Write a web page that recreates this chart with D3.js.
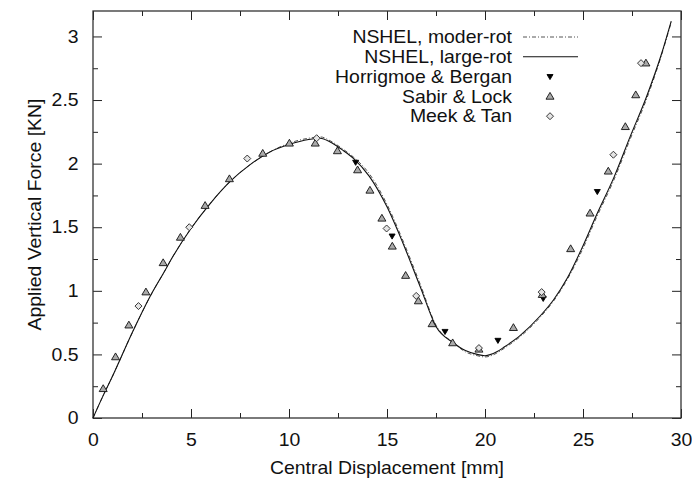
<!DOCTYPE html>
<html>
<head>
<meta charset="utf-8">
<script src="https://cdn.jsdelivr.net/npm/d3@7"></script>
<style>
  body { margin: 0; background: #fff; }
  svg text { font-family: "Liberation Sans", Arial, Helvetica, sans-serif; fill: #111; }
</style>
</head>
<body>
<svg id="chart" width="692" height="490"></svg>
<script>
// NSHEL results
const largeRotX = [0, 0.5, 1, 2, 3, 3.6, 4, 5, 6, 7, 8, 9, 10, 11, 11.6, 12.1, 12.7, 13.3, 14.1, 15.0, 15.8, 16.7, 17.5, 18.4, 19.0, 19.6, 20.0, 20.6, 21.0, 21.8, 22.8, 23.5, 24.2, 24.9, 25.7, 26.6, 27.4, 28.25, 29.0, 29.5];
const largeRotY = [0, 0.17, 0.33, 0.67, 0.98, 1.14, 1.25, 1.49, 1.69, 1.86, 1.99, 2.09, 2.15, 2.19, 2.20, 2.17, 2.11, 2.04, 1.90, 1.66, 1.38, 1.03, 0.72, 0.59, 0.53, 0.50, 0.49, 0.52, 0.56, 0.65, 0.80, 0.93, 1.10, 1.32, 1.60, 1.90, 2.21, 2.53, 2.86, 3.12];
const moderRotX = [0, 0.5, 1, 2, 3, 3.6, 4, 5, 6, 7, 8, 9, 10, 11, 11.6, 12.1, 12.7, 13.3, 14.1, 15.0, 15.8, 16.7, 17.5, 18.4, 19.0, 19.6, 20.0, 20.6, 21.0, 21.8, 22.8, 23.5, 24.2, 24.9, 25.7, 26.6, 27.4, 28.25, 29.0, 29.5];
const moderRotY = [0, 0.17, 0.33, 0.67, 0.98, 1.14, 1.25, 1.49, 1.69, 1.86, 1.99, 2.09, 2.16, 2.20, 2.21, 2.18, 2.12, 2.05, 1.92, 1.68, 1.40, 1.05, 0.73, 0.59, 0.52, 0.49, 0.48, 0.51, 0.55, 0.64, 0.79, 0.92, 1.09, 1.30, 1.58, 1.88, 2.19, 2.51, 2.85, 3.11];

// reference solutions (markers)
const horrigmoeX = [13.4, 15.26, 17.96, 20.66, 22.97, 25.73];
const horrigmoeY = [2.01, 1.43, 0.68, 0.61, 0.94, 1.78];
const sabirX = [0.52, 1.15, 1.83, 2.70, 3.58, 4.46, 5.72, 6.96, 8.66, 10.02, 11.34, 12.47, 13.5, 14.13, 14.74, 15.27, 15.95, 16.6, 17.3, 18.35, 19.69, 21.45, 22.92, 24.37, 25.36, 26.29, 27.16, 27.69, 28.21];
const sabirY = [0.23, 0.48, 0.73, 0.99, 1.22, 1.42, 1.67, 1.88, 2.08, 2.16, 2.16, 2.10, 1.95, 1.79, 1.57, 1.35, 1.12, 0.92, 0.74, 0.59, 0.54, 0.71, 0.97, 1.33, 1.61, 1.94, 2.29, 2.54, 2.79];
const meekX = [2.32, 4.91, 7.87, 11.41, 14.98, 16.49, 19.69, 22.89, 26.55, 27.96];
const meekY = [0.88, 1.50, 2.04, 2.20, 1.49, 0.96, 0.55, 0.99, 2.07, 2.79];

const xTicks = [0, 5, 10, 15, 20, 25, 30];
const yTicks = [0, 0.5, 1, 1.5, 2, 2.5, 3];
const yTickLabels = ['0', '0.5', '1', '1.5', '2', '2.5', '3'];

const zip = (xs, ys) => xs.map((x, i) => [x, ys[i]]);

const svg = d3.select('#chart');
const pLeft = 93, pRight = 681, pTop = 11, pBottom = 418;
// the original's Helvetica is a bit wider than tall, so stretch text sideways
const fontSize = '17.5px', stretch = 1.11;

const x = d3.scaleLinear().domain([0, 30]).range([pLeft, pRight]);
const y = d3.scaleLinear().domain([0, 3.2]).range([pBottom, pTop]);

// ticks on all four sides, pointing inwards
const majorLen = 9, minorLen = 5;
const xMinor = d3.range(2.5, 30, 5);
const yMinor = d3.range(0.25, 3.2, 0.5);

svg.append('g').attr('transform', `translate(0,${pBottom})`)
    .call(d3.axisBottom(x).tickValues(xTicks).tickSize(-majorLen).tickPadding(majorLen + 7).tickFormat(d3.format('d')))
    .call(g => g.select('.domain').remove());
svg.append('g').attr('transform', `translate(0,${pBottom})`)
    .call(d3.axisBottom(x).tickValues(xMinor).tickSize(-minorLen).tickFormat(''))
    .call(g => g.select('.domain').remove());
svg.append('g').attr('transform', `translate(0,${pTop})`)
    .call(d3.axisTop(x).tickValues(xTicks).tickSize(-majorLen).tickFormat(''))
    .call(g => g.select('.domain').remove());
svg.append('g').attr('transform', `translate(0,${pTop})`)
    .call(d3.axisTop(x).tickValues(xMinor).tickSize(-minorLen).tickFormat(''))
    .call(g => g.select('.domain').remove());

svg.append('g').attr('transform', `translate(${pLeft},0)`)
    .call(d3.axisLeft(y).tickValues(yTicks).tickSize(-majorLen).tickPadding(majorLen + 4).tickFormat((d, i) => yTickLabels[i]))
    .call(g => g.select('.domain').remove());
svg.append('g').attr('transform', `translate(${pLeft},0)`)
    .call(d3.axisLeft(y).tickValues(yMinor).tickSize(-minorLen).tickFormat(''))
    .call(g => g.select('.domain').remove());
svg.append('g').attr('transform', `translate(${pRight},0)`)
    .call(d3.axisRight(y).tickValues(yTicks).tickSize(-majorLen).tickFormat(''))
    .call(g => g.select('.domain').remove());
svg.append('g').attr('transform', `translate(${pRight},0)`)
    .call(d3.axisRight(y).tickValues(yMinor).tickSize(-minorLen).tickFormat(''))
    .call(g => g.select('.domain').remove());

svg.selectAll('.tick line').attr('stroke', '#222').attr('stroke-width', 1);
svg.selectAll('.tick text')
    .style('font-size', fontSize).attr('fill', '#111')
    .attr('transform', `scale(${stretch},1)`);

// frame
svg.append('rect')
    .attr('x', pLeft).attr('y', pTop)
    .attr('width', pRight - pLeft).attr('height', pBottom - pTop)
    .attr('fill', 'none').attr('stroke', '#333').attr('stroke-width', 1.3);

// axis titles
svg.append('text')
    .attr('transform', `translate(${(pLeft + pRight) / 2},474) scale(${stretch},1)`)
    .attr('text-anchor', 'middle')
    .style('font-size', fontSize)
    .text('Central Displacement [mm]');
svg.append('text')
    .attr('transform', `translate(41,${(pTop + pBottom) / 2}) rotate(-90) scale(${stretch},1)`)
    .attr('text-anchor', 'middle')
    .style('font-size', fontSize)
    .text('Applied Vertical Force [KN]');

// curves
const line = d3.line().x(d => x(d[0])).y(d => y(d[1])).curve(d3.curveMonotoneX);

svg.append('path')
    .datum(zip(moderRotX, moderRotY))
    .attr('d', line)
    .attr('fill', 'none').attr('stroke', '#555').attr('stroke-width', 1)
    .attr('stroke-dasharray', '4,2,1,2');
svg.append('path')
    .datum(zip(largeRotX, largeRotY))
    .attr('d', line)
    .attr('fill', 'none').attr('stroke', '#111').attr('stroke-width', 1.1);

// marker shapes
const tri = s => `M0,${-s * 0.5}L${s * 0.5},${s * 0.35}L${-s * 0.5},${s * 0.35}Z`;
const triDown = s => `M0,${s * 0.5}L${s * 0.5},${-s * 0.35}L${-s * 0.5},${-s * 0.35}Z`;
const diamond = s => `M0,${-s * 0.5}L${s * 0.5},0L0,${s * 0.5}L${-s * 0.5},0Z`;

function drawMarkers(xs, ys, shape, fill, stroke) {
    svg.append('g').selectAll('path')
        .data(zip(xs, ys))
        .enter().append('path')
        .attr('transform', d => `translate(${x(d[0])},${y(d[1])})`)
        .attr('d', shape)
        .attr('fill', fill)
        .attr('stroke', stroke)
        .attr('stroke-width', 0.9);
}

drawMarkers(horrigmoeX, horrigmoeY, triDown(6), '#000', '#000');
drawMarkers(sabirX, sabirY, tri(8), '#aaa', '#111');
drawMarkers(meekX, meekY, diamond(7), '#e4e4e4', '#222');

// legend
const legendRows = [
    { label: 'NSHEL, moder-rot', type: 'dash' },
    { label: 'NSHEL, large-rot', type: 'solid' },
    { label: 'Horrigmoe & Bergan', type: 'down' },
    { label: 'Sabir & Lock', type: 'tri' },
    { label: 'Meek & Tan', type: 'diamond' }
];
const lg = svg.append('g');
legendRows.forEach((r, i) => {
    const cy = 37 + i * 19.8;
    lg.append('text')
        .attr('transform', `translate(512,${cy}) scale(${stretch},1)`)
        .attr('dy', '0.35em')
        .attr('text-anchor', 'end')
        .style('font-size', fontSize)
        .text(r.label);
    if (r.type === 'dash' || r.type === 'solid') {
        lg.append('line')
            .attr('x1', 523).attr('x2', 578).attr('y1', cy).attr('y2', cy)
            .attr('stroke', r.type === 'dash' ? '#555' : '#111')
            .attr('stroke-width', r.type === 'dash' ? 1 : 1.1)
            .attr('stroke-dasharray', r.type === 'dash' ? '4,2,1,2' : null);
    } else {
        const shape = r.type === 'down' ? triDown(6) : r.type === 'tri' ? tri(8) : diamond(7);
        lg.append('path')
            .attr('transform', `translate(550,${cy})`)
            .attr('d', shape)
            .attr('fill', r.type === 'down' ? '#000' : r.type === 'tri' ? '#aaa' : '#e4e4e4')
            .attr('stroke', r.type === 'down' ? '#000' : r.type === 'tri' ? '#111' : '#222')
            .attr('stroke-width', 0.9);
    }
});
</script>
</body>
</html>
